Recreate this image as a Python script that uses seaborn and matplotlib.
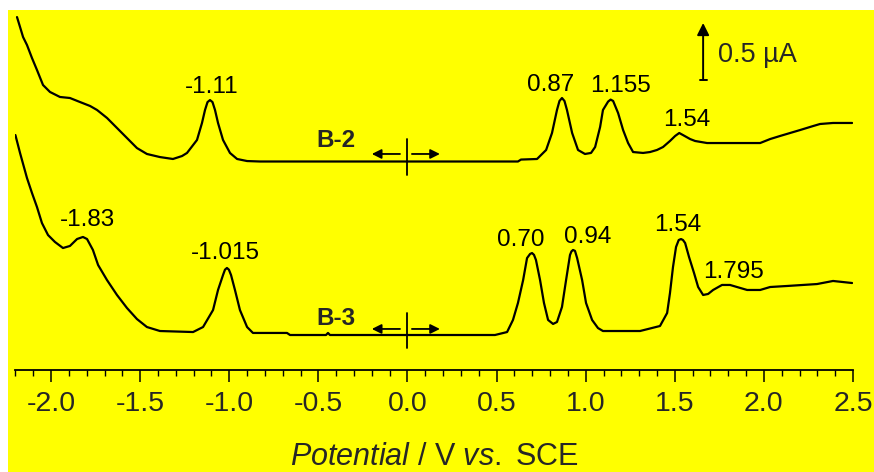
import numpy as np
import pandas as pd
import matplotlib
matplotlib.use("Agg")
import matplotlib.pyplot as plt
from matplotlib.patches import Rectangle
from matplotlib.ticker import FixedLocator
import seaborn as sns

# ---------------- data (potential in V vs SCE, current in uA, offset traces) -------------
b2_potential = [-2.191, -2.174, -2.157, -2.135, -2.107, -2.079, -2.045, -2.006, -1.950, -1.894,
                -1.838, -1.781, -1.742, -1.686, -1.630, -1.574, -1.518, -1.462, -1.389, -1.316,
                -1.265, -1.237, -1.181, -1.153, -1.136, -1.122, -1.108, -1.094, -1.080, -1.063,
                -1.035, -0.996, -0.956, -0.900, -0.827, -0.603, -0.042, 0.620, 0.637, 0.727,
                0.778, 0.811, 0.839, 0.853, 0.867, 0.881, 0.895, 0.924, 0.957, 0.996,
                1.030, 1.053, 1.081, 1.097, 1.126, 1.140, 1.154, 1.182, 1.210, 1.238,
                1.266, 1.322, 1.361, 1.400, 1.434, 1.473, 1.502, 1.525, 1.546, 1.586,
                1.614, 1.681, 1.810, 1.979, 2.035, 2.091, 2.147, 2.203, 2.276, 2.315,
                2.388, 2.495]
b2_current = [3.096, 3.009, 2.921, 2.851, 2.737, 2.632, 2.500, 2.439, 2.395, 2.386,
              2.351, 2.316, 2.281, 2.211, 2.123, 2.035, 1.947, 1.895, 1.868, 1.851,
              1.877, 1.904, 2.018, 2.167, 2.281, 2.350, 2.368, 2.350, 2.281, 2.167,
              2.018, 1.904, 1.851, 1.833, 1.829, 1.829, 1.829, 1.829, 1.846, 1.851,
              1.930, 2.079, 2.281, 2.360, 2.386, 2.360, 2.281, 2.079, 1.930, 1.895,
              1.904, 1.956, 2.132, 2.281, 2.355, 2.372, 2.360, 2.254, 2.105, 1.991,
              1.912, 1.904, 1.912, 1.930, 1.956, 2.009, 2.053, 2.079, 2.061, 2.026,
              2.009, 1.991, 1.991, 1.991, 2.026, 2.053, 2.079, 2.105, 2.140, 2.158,
              2.167, 2.167]

b3_potential = [-2.200, -2.174, -2.135, -2.107, -2.079, -2.051, -2.017, -1.978, -1.933, -1.894,
                -1.854, -1.821, -1.798, -1.765, -1.736, -1.686, -1.630, -1.574, -1.518, -1.462,
                -1.389, -1.203, -1.147, -1.091, -1.063, -1.035, -1.024, -1.013, -1.002, -0.990,
                -0.968, -0.940, -0.900, -0.867, -0.676, -0.659, -0.457, -0.446, -0.435, 0.491,
                0.559, 0.592, 0.620, 0.649, 0.671, 0.688, 0.699, 0.710, 0.721, 0.744,
                0.766, 0.789, 0.817, 0.839, 0.867, 0.890, 0.912, 0.920, 0.929, 0.940,
                0.952, 0.980, 1.002, 1.036, 1.069, 1.097, 1.305, 1.417, 1.457, 1.473,
                1.490, 1.507, 1.522, 1.535, 1.546, 1.558, 1.580, 1.608, 1.631, 1.659,
                1.687, 1.715, 1.765, 1.810, 1.849, 1.906, 1.979, 2.035, 2.130, 2.298,
                2.388, 2.495]
b3_current = [2.061, 1.904, 1.684, 1.553, 1.430, 1.289, 1.184, 1.123, 1.070, 1.088,
              1.149, 1.167, 1.149, 1.053, 0.921, 0.789, 0.658, 0.544, 0.447, 0.377,
              0.342, 0.333, 0.377, 0.526, 0.702, 0.833, 0.880, 0.895, 0.880, 0.833,
              0.702, 0.526, 0.377, 0.325, 0.325, 0.307, 0.307, 0.325, 0.307, 0.307,
              0.333, 0.439, 0.588, 0.789, 0.982, 1.018, 1.026, 1.010, 0.965, 0.789,
              0.588, 0.439, 0.404, 0.421, 0.553, 0.789, 1.009, 1.040, 1.053, 1.045,
              0.982, 0.789, 0.588, 0.439, 0.368, 0.342, 0.342, 0.386, 0.500, 0.675,
              0.904, 1.079, 1.140, 1.149, 1.140, 1.114, 0.991, 0.851, 0.728, 0.658,
              0.667, 0.702, 0.746, 0.746, 0.728, 0.702, 0.702, 0.728, 0.737, 0.754,
              0.781, 0.763]

# peak labels: text, x, y
peak_texts = ["-1.11", "0.87", "1.155", "1.54", "-1.83", "-1.015", "0.70", "0.94", "1.54", "1.795"]
peak_label_x = [-1.097, 0.806, 1.193, 1.566, -1.795, -1.021, 0.634, 1.010, 1.518, 1.827]
peak_label_y = [2.482, 2.500, 2.491, 2.193, 1.316, 1.026, 1.140, 1.167, 1.272, 0.860]

trace_names = ["B-2", "B-3"]
trace_name_x = [-0.404, -0.401]
trace_name_y = [2.009, 0.456]
start_marker_y = [1.895, 0.360]
start_marker_top = [2.026, 0.500]
start_marker_bottom = [1.711, 0.193]

scale_value = 0.5
scale_x = 1.659
scale_y0 = 2.544

x_ticks = [-2.0, -1.5, -1.0, -0.5, 0.0, 0.5, 1.0, 1.5, 2.0, 2.5]
x_tick_labels = ["-2.0", "-1.5", "-1.0", "-0.5", "0.0", "0.5", "1.0", "1.5", "2.0", "2.5"]

# ---------------- style -------------
sns.set_style("ticks")
plt.rcParams["font.family"] = ["Liberation Sans", "DejaVu Sans"]
plt.rcParams["mathtext.fontset"] = "custom"
plt.rcParams["mathtext.rm"] = "Liberation Sans"
plt.rcParams["mathtext.it"] = "Liberation Sans:italic"

W, H = 874, 472
fig = plt.figure(figsize=(W / 100, H / 100), dpi=100)
fig.patch.set_facecolor("white")
fig.add_artist(Rectangle((8 / W, 0), 1 - 8 / W, 1 - 10 / H, transform=fig.transFigure,
                         facecolor="#FFFF00", edgecolor="none", zorder=-10))

ax = fig.add_axes([15.4 / W, 1 - 370 / H, (853 - 15.4) / W, 360 / H])
ax.set_facecolor("none")

df2 = pd.DataFrame({"Potential": b2_potential, "Current": b2_current})
df3 = pd.DataFrame({"Potential": b3_potential, "Current": b3_current})
sns.lineplot(data=df2, x="Potential", y="Current", ax=ax, color="black", lw=1.6,
             estimator=None, sort=False)
sns.lineplot(data=df3, x="Potential", y="Current", ax=ax, color="black", lw=1.6,
             estimator=None, sort=False)

ax.set_xlim(-2.2, 2.5)
ax.set_ylim(0, 3.158)

for s in ["left", "right", "top"]:
    ax.spines[s].set_visible(False)
ax.spines["bottom"].set_linewidth(1.3)
ax.spines["bottom"].set_color("black")
ax.set_yticks([])
ax.set_ylabel("")

ax.xaxis.set_major_locator(FixedLocator(x_ticks))
ax.xaxis.set_minor_locator(FixedLocator(np.round(np.arange(-2.2, 2.5001, 0.1), 2)))
ax.set_xticklabels(x_tick_labels)
ax.tick_params(axis="x", which="major", direction="out", length=8.5, width=1.1,
               labelsize=20.5, pad=6.5, color="black")
ax.tick_params(axis="x", which="minor", direction="out", length=4, width=1.0, color="black")
ax.set_xlabel(r"$\it{Potential}$ / V $\it{vs.}$ SCE", fontsize=22, labelpad=18)

# peak labels
for t, x, y in zip(peak_texts, peak_label_x, peak_label_y):
    ax.text(x, y, t, fontsize=17.5, ha="center", va="center", color="black")

# trace names and scan start markers
for name, x, y, ym, yt, yb in zip(trace_names, trace_name_x, trace_name_y,
                                  start_marker_y, start_marker_top, start_marker_bottom):
    ax.text(x, y, name, fontsize=17.5, fontweight="bold", ha="center", va="center")
    ax.plot([0.0, 0.0], [yb, yt], color="black", lw=1.3)
    ax.annotate("", xy=(-0.200, ym), xytext=(-0.042, ym),
                arrowprops=dict(arrowstyle="-|>", color="black", lw=1.3,
                                mutation_scale=14, shrinkA=0, shrinkB=0))
    ax.annotate("", xy=(0.182, ym), xytext=(0.025, ym),
                arrowprops=dict(arrowstyle="-|>", color="black", lw=1.3,
                                mutation_scale=14, shrinkA=0, shrinkB=0))

# scale bar
ax.annotate("", xy=(scale_x, scale_y0 + scale_value), xytext=(scale_x, scale_y0),
            arrowprops=dict(arrowstyle="-|>", color="black", lw=1.4,
                            mutation_scale=18, shrinkA=0, shrinkB=0))
ax.plot([scale_x - 0.02, scale_x + 0.02], [scale_y0, scale_y0], color="black", lw=1.4)
ax.text(1.743, 2.763, "0.5 µA", fontsize=19.5, ha="left", va="center")

fig.savefig("out.png", dpi=100, facecolor=fig.get_facecolor())
